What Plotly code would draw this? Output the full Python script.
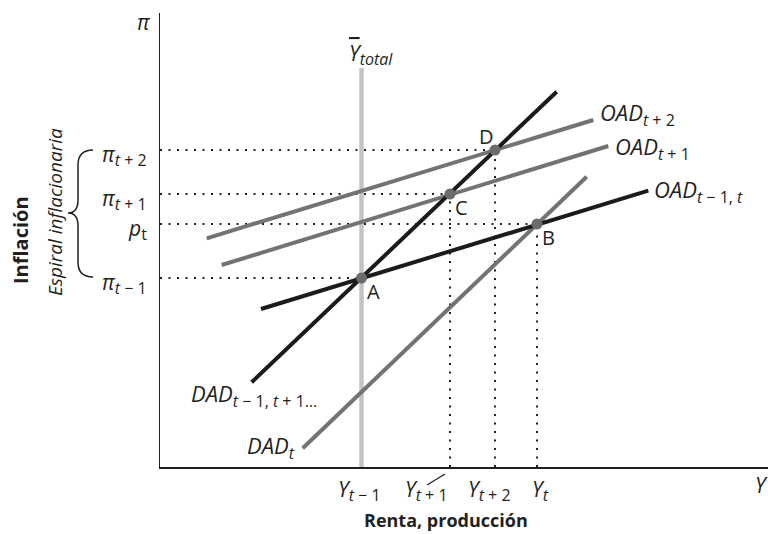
import plotly.graph_objects as go

# ---------------- data (schematic units) ----------------
points = ["A", "B", "C", "D"]
point_x = [201.5, 377, 290, 335]     # output level at each equilibrium
point_y = [189, 243, 273, 317]       # inflation level at each equilibrium

y_total = 201.5
y_total_top = 399

# curve endpoints (x0, y0, x1, y1)
dad_prev = [91.7, 84.7, 396.7, 375.3]     # DAD_{t-1, t+1...}
dad_t = [142.7, 18.7, 426.7, 290.3]       # DAD_t
oad_prev = [101, 158, 488.3, 276.3]       # OAD_{t-1, t}
oad_t1 = [61.7, 202, 448.3, 321]          # OAD_{t+1}
oad_t2 = [46.7, 228.7, 433.3, 347]        # OAD_{t+2}

SUBSZ = 16
def S(t):
    return f'<sub><span style="font-size:{SUBSZ}px">{t}</span></sub>'

pi_levels = [317, 273, 243, 189]
pi_labels = ["<i>π</i>" + S("<i>t</i> + 2"), "<i>π</i>" + S("<i>t</i> + 1"),
             "<i>p</i>" + S("t"), "<i>π</i>" + S("<i>t</i> − 1")]
y_levels = [201.5, 290, 335, 377]
y_labels = ["<i>Y</i>" + S("<i>t</i> − 1"), "<i>Y</i>" + S("<i>t</i> + 1"),
            "<i>Y</i>" + S("<i>t</i> + 2"), "<i>Y</i>" + S("<i>t</i>")]
y_label_x = [199, 266, 329, 380]

X_MAX, Y_MAX = 608, 454
FONT = "Open Sans"
INK = "#231f20"
BLACK = "#1c1a1a"
GRAY = "#737373"
LIGHT = "#c3c3c8"
DOT = "2px,6.5px"

fig = go.Figure()

def seg(x0, y0, x1, y1, color, width, dash="solid"):
    fig.add_trace(go.Scatter(x=[x0, x1], y=[y0, y1], mode="lines",
                             line=dict(color=color, width=width, dash=dash),
                             hoverinfo="skip", showlegend=False))

# dotted guide lines
for px_, py_ in zip(point_x, point_y):
    seg(0, py_, px_, py_, INK, 2, DOT)
for px_, py_ in zip(point_x[1:], point_y[1:]):
    seg(px_, 0, px_, py_, INK, 2, DOT)

# potential output
seg(y_total, 0, y_total, y_total_top, LIGHT, 4.5)

# curves
seg(*dad_t, GRAY, 4)
seg(*oad_t1, GRAY, 4)
seg(*oad_t2, GRAY, 4)
seg(*oad_prev, BLACK, 4)
seg(*dad_prev, BLACK, 4)

fig.add_trace(go.Scatter(x=point_x, y=point_y, mode="markers",
                         marker=dict(color="#6b6b6b", size=11),
                         hoverinfo="skip", showlegend=False))

# page pixel -> paper coordinates
def px(x):
    return (x - 160) / X_MAX

def py(y):
    return (467 - y) / Y_MAX

ann = []
def text(t, x, y, xref="paper", yref="paper", size=21, xanchor="center",
         yanchor="middle", angle=0):
    ann.append(dict(text=t, x=x, y=y, xref=xref, yref=yref, showarrow=False,
                    xanchor=xanchor, yanchor=yanchor, textangle=angle,
                    font=dict(family=FONT, size=size, color=INK)))

# point labels
pt_off = [(12, -13), (11, -13), (11, -13), (-9, 14)]
for name, x, y, (dx, dy) in zip(points, point_x, point_y, pt_off):
    text(name, x + dx, y + dy, "x", "y", size=20)

# curve labels
text("<i>OAD</i>" + S("<i>t</i> + 2"), 438, 353, "x", "y", xanchor="left", size=22)
text("<i>OAD</i>" + S("<i>t</i> + 1"), 453, 319, "x", "y", xanchor="left", size=22)
text("<i>OAD</i>" + S("<i>t</i> − 1, <i>t</i>"), 492, 276, "x", "y", xanchor="left", size=22)
text("<i>DAD</i>" + S("<i>t</i> − 1, <i>t</i> + 1…"), 29, 72, "x", "y", xanchor="left", size=22)
text("<i>DAD</i>" + S("<i>t</i>"), 137, 20, "x", "y", xanchor="right", size=22)

# Y total label
text('<span style="text-decoration:overline"><i>Y</i></span>' + S("<i>total</i>"),
     187, py(54), "x", "paper", xanchor="left")

# y-axis level labels
for lvl, lab in zip(pi_levels, pi_labels):
    text(lab, px(149), lvl - 5, "paper", "y", xanchor="right")

# x-axis level labels
for xl, lab in zip(y_label_x, y_labels):
    text(lab, xl, py(473), "x", "paper", yanchor="top")

# axis symbols & titles
text("<i>π</i>", px(144), py(22))
text("<i>Y</i>", px(761), py(485))
text("<b>Renta, producción</b>", px(446), py(520), size=18)
text("<b>Inflación</b>", px(20), py(240), size=20, angle=-90)
text("<i>Espiral inflacionaria</i>", px(55), py(212), size=19, angle=-90)

shapes = []
# brace
def P(x, y):
    return f"{px(x):.5f},{py(y):.5f}"
brace = (f"M {P(93,150)} Q {P(78,150)} {P(78,165)} L {P(78,200)} "
         f"Q {P(78,213)} {P(68,213)} Q {P(78,213)} {P(78,226)} "
         f"L {P(78,262)} Q {P(78,277)} {P(93,277)}")
shapes.append(dict(type="path", path=brace, xref="paper", yref="paper",
                   line=dict(color=INK, width=1.5)))
# small pointer next to Y_{t+1}
shapes.append(dict(type="line", x0=px(427), y0=py(485), x1=px(445), y1=py(474),
                   xref="paper", yref="paper", line=dict(color=INK, width=1.3)))

fig.update_layout(
    width=768, height=534,
    margin=dict(l=160, r=0, t=13, b=67),
    plot_bgcolor="white", paper_bgcolor="white",
    xaxis=dict(range=[0, X_MAX], showgrid=False, zeroline=False, showticklabels=False,
               ticks="", showline=True, linecolor=INK, linewidth=1.5, fixedrange=True),
    yaxis=dict(range=[0, Y_MAX], showgrid=False, zeroline=False, showticklabels=False,
               ticks="", showline=True, linecolor=INK, linewidth=1.5, fixedrange=True),
    annotations=ann, shapes=shapes, showlegend=False,
)

fig.write_html("out.html",
               config={"displayModeBar": False, "staticPlot": True},
               post_script="document.body.style.margin='0';"
                           "document.documentElement.style.overflow='hidden';")
